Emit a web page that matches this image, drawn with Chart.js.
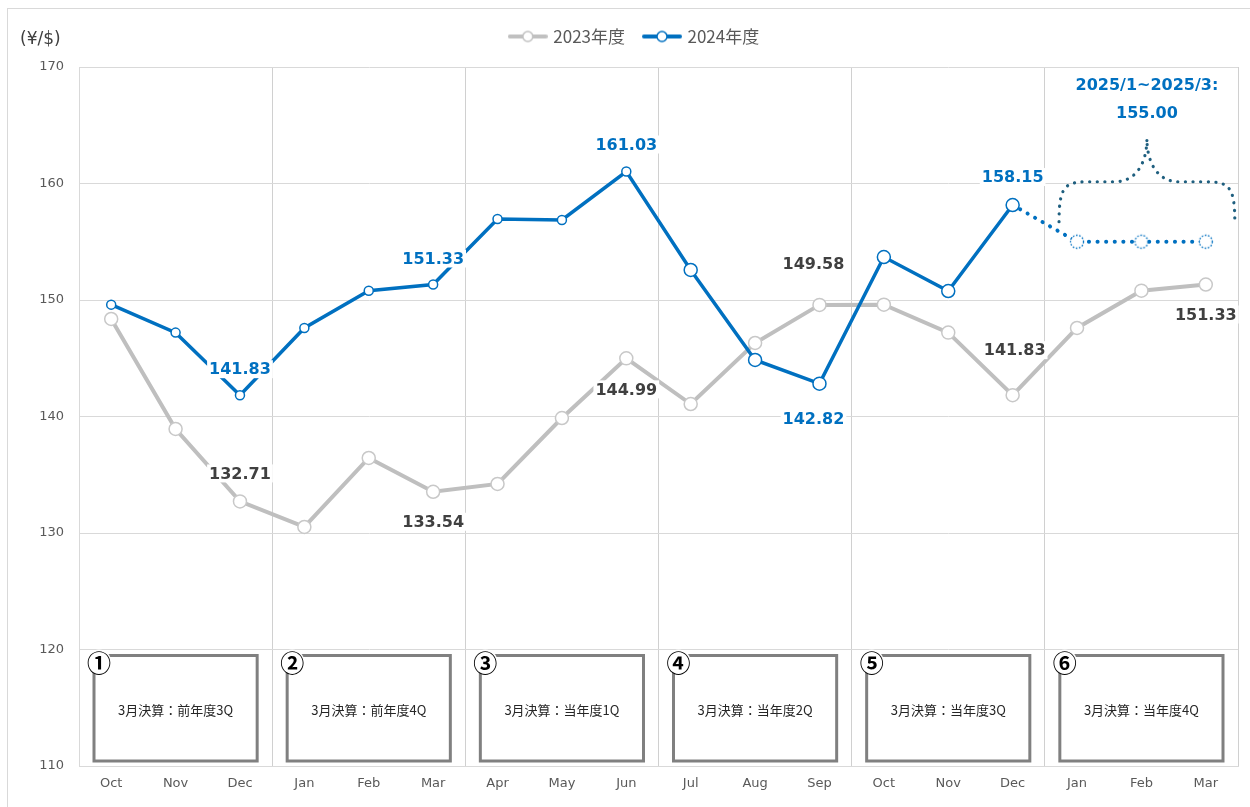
<!DOCTYPE html>
<html><head><meta charset="utf-8">
<script src="https://cdn.jsdelivr.net/npm/chart.js@4.4.1/dist/chart.umd.min.js"></script>
<style>
html,body{margin:0;padding:0;background:#fff;}
#wrap{position:relative;width:1250px;height:807px;overflow:hidden;}
#frame{position:absolute;left:7px;top:8px;width:1300px;height:900px;border-left:1px solid #d9d9d9;border-top:1px solid #d9d9d9;}
#c{position:absolute;left:0;top:0;}
#unit{position:absolute;left:20px;top:28px;font:17px "DejaVu Sans";color:#404040;}
</style></head><body>
<div id="wrap"><div id="frame"></div><canvas id="c" width="1250" height="807"></canvas><div id="unit">(¥/$)</div></div>
<script>
// ---- data ----
const months = ['Oct','Nov','Dec','Jan','Feb','Mar','Apr','May','Jun','Jul','Aug','Sep','Oct','Nov','Dec','Jan','Feb','Mar'];
const seriesNames = ['2023年度','2024年度'];
const fy2023 = [148.37,138.93,132.71,130.52,136.44,133.54,134.21,139.87,144.99,141.07,146.31,149.58,149.6,147.2,141.83,147.6,150.8,151.33];
const fy2024 = [149.6,147.2,141.83,147.6,150.8,151.33,156.95,156.87,161.03,152.58,144.85,142.82,153.69,150.77,158.15,null,null,null];
const outlook = [null,null,null,null,null,null,null,null,null,null,null,null,null,null,158.15,155.00,155.00,155.00];
const outlookTitle = '2025/1~2025/3:';
const outlookValue = '155.00';
const yMin = 110, yMax = 170, yStep = 10;
const quarterMarks = ['①','②','③','④','⑤','⑥'];
const quarterNotes = ['3月決算：前年度3Q','3月決算：前年度4Q','3月決算：当年度1Q','3月決算：当年度2Q','3月決算：当年度3Q','3月決算：当年度4Q'];
const labeled2023 = [2,5,8,11,14,17];
const labeled2024 = [2,5,8,11,14];

// ---- styles ----
const BLUE = '#0070c0', GRAY = '#bfbfbf';
const labelOffsets2023 = {2:-28, 5:30, 8:31, 11:-41, 14:-45, 17:30};
const labelDx2023 = {11:-6, 14:2};
const labelOffsets2024 = {2:-26, 5:-26, 8:-27, 11:35, 14:-28};
const labelDx2024 = {11:-6};

function legendMarker(color){
  const c=document.createElement('canvas'); c.width=40; c.height=14;
  const g=c.getContext('2d'); g.strokeStyle=color; g.lineCap='round'; g.lineWidth=4;
  g.beginPath(); g.moveTo(2,7); g.lineTo(38,7); g.stroke();
  g.beginPath(); g.arc(20,7,5,0,Math.PI*2); g.fillStyle='#fff'; g.fill(); g.lineWidth=1.5; g.stroke();
  return c;
}
function dottedCircle(){
  const c=document.createElement('canvas'); c.width=18; c.height=18;
  const g=c.getContext('2d'); g.beginPath(); g.arc(9,9,6.5,0,Math.PI*2); g.fillStyle='#fff'; g.fill();
  g.setLineDash([1.6,1.6]); g.strokeStyle=BLUE; g.lineWidth=1.3; g.stroke();
  return c;
}
const markers = [legendMarker('#c0c0c0'), legendMarker(BLUE)];
const dotCircle = dottedCircle();

const annotations = {
  id:'annot',
  afterLayout(chart){
    chart.legend.left += 16; chart.legend.right += 16;
    chart.legend.top = 8;
  },
  beforeDatasetsDraw(chart){
    const {ctx, chartArea, scales:{x, y}} = chart;
    const half = (x.getPixelForValue(1)-x.getPixelForValue(0))/2;
    ctx.save();
    for(let k=0;k<6;k++){
      const l = x.getPixelForValue(3*k)-half, r = x.getPixelForValue(3*k+2)+half;
      const x1=l+15, x2=r-15, y1=y.getPixelForValue(120)+6, y2=chartArea.bottom-5;
      ctx.fillStyle='#fff'; ctx.fillRect(x1,y1,x2-x1,y2-y1);
      ctx.strokeStyle='#808080'; ctx.lineWidth=3; ctx.strokeRect(x1,y1,x2-x1,y2-y1);
      ctx.beginPath(); ctx.arc(x1+5,y1+6,12,0,Math.PI*2); ctx.fillStyle='#fff'; ctx.fill();
      ctx.fillStyle='#000'; ctx.font='bold 24px "Noto Sans CJK JP"'; ctx.textAlign='center'; ctx.textBaseline='middle';
      ctx.fillText(quarterMarks[k], x1+5, y1+7);
      ctx.fillStyle='#262626'; ctx.font='13px "Noto Sans CJK JP"';
      ctx.fillText(quarterNotes[k], (x1+x2)/2, (y1+y2)/2+2);
    }
    ctx.restore();
  },
  afterDatasetsDraw(chart){
    const {ctx, chartArea, scales:{x, y}} = chart;
    ctx.save();
    const drawLbl = (meta, idxs, offs, dxs, vals, color) => {
      ctx.font='bold 16px "DejaVu Sans"'; ctx.textAlign='center'; ctx.textBaseline='middle';
      idxs.forEach(i=>{
        const p = meta.data[i]; const t = vals[i].toFixed(2);
        const cx = p.x + (dxs[i]||0), cy = p.y + offs[i];
        const w = ctx.measureText(t).width;
        ctx.fillStyle='#fff'; ctx.fillRect(cx-w/2-2, cy-9, w+4, 18);
        ctx.fillStyle=color; ctx.fillText(t, cx, cy+1);
      });
    };
    drawLbl(chart.getDatasetMeta(0), labeled2023, labelOffsets2023, labelDx2023, fy2023, '#404040');
    drawLbl(chart.getDatasetMeta(1), labeled2024, labelOffsets2024, labelDx2024, fy2024, BLUE);
    // brace
    const y155 = y.getPixelForValue(outlook[16]);
    const xL = x.getPixelForValue(15)-18, xR = x.getPixelForValue(17)+29, xC=(xL+xR)/2;
    const yB = y155-20, yM = y155-60, yP = y155-103;
    ctx.beginPath();
    ctx.moveTo(xL, yB);
    ctx.bezierCurveTo(xL, yM+4, xL+6, yM, xL+30, yM);
    ctx.lineTo(xC-32, yM);
    ctx.bezierCurveTo(xC-10, yM, xC, yM-20, xC, yP);
    ctx.bezierCurveTo(xC, yM-20, xC+10, yM, xC+32, yM);
    ctx.lineTo(xR-30, yM);
    ctx.bezierCurveTo(xR-6, yM, xR, yM+4, xR, yB);
    ctx.setLineDash([0.1,7.5]); ctx.lineCap='round'; ctx.lineWidth=3.2; ctx.strokeStyle='#1f5f7f'; ctx.stroke();
    ctx.setLineDash([]);
    ctx.fillStyle=BLUE; ctx.font='bold 16px "DejaVu Sans"'; ctx.textAlign='center'; ctx.textBaseline='middle';
    ctx.fillText(outlookTitle, xC, chartArea.top+19);
    ctx.fillText(outlookValue, xC, chartArea.top+47);
    ctx.restore();
  }
};

new Chart(document.getElementById('c'), {
  type:'line',
  data:{
    labels: months,
    datasets:[
      {label:seriesNames[0], data:fy2023, order:2, borderColor:GRAY, borderWidth:4, pointRadius:6.5, pointBorderWidth:1.5,
       pointBorderColor:'#c8c8c8', pointBackgroundColor:'#fff', tension:0},
      {label:seriesNames[1], data:fy2024, order:0, borderColor:BLUE, borderWidth:3.5,
       pointRadius:(c)=>c.dataIndex<9?4.5:6.5, pointBorderWidth:1.5, pointBorderColor:BLUE, pointBackgroundColor:'#fff', tension:0},
      {label:'outlook', data:outlook, order:1, borderColor:BLUE, borderWidth:4, borderDash:[0.1,8.5], borderCapStyle:'round',
       pointStyle:dotCircle, pointRadius:(c)=>c.dataIndex===14?0:7, spanGaps:false}
    ]
  },
  options:{
    responsive:false, animation:false, events:[],
    layout:{padding:{left:0,right:12,top:20,bottom:0}},
    plugins:{
      legend:{position:'top', labels:{font:{family:'"Noto Sans CJK JP"', size:17}, color:'#595959', padding:20,
        usePointStyle:true, pointStyleWidth:34,
        filter:(it)=>it.datasetIndex<2,
        sort:(a,b)=>a.datasetIndex-b.datasetIndex,
        generateLabels:(chart)=>Chart.defaults.plugins.legend.labels.generateLabels(chart).map((l)=>{ if(l.datasetIndex<2){l.pointStyle=markers[l.datasetIndex];} return l;})}},
      tooltip:{enabled:false}
    },
    scales:{
      x:{offset:true, grid:{offset:true, drawTicks:false, lineWidth:1,
          color:(c)=> (c.index===undefined || c.index%3===0) ? '#d0d0d0' : 'rgba(0,0,0,0)'},
         border:{color:'#d9d9d9'},
         ticks:{color:'#595959', font:{family:'"DejaVu Sans"', size:13}, padding:10, maxRotation:0, autoSkip:false},
         afterFit:(s)=>{s.height=41;}},
      y:{min:yMin, max:yMax, grid:{color:'#d9d9d9', drawTicks:false}, border:{color:'#d9d9d9'},
         ticks:{stepSize:yStep, color:'#595959', font:{family:'"DejaVu Sans"', size:13}, padding:15},
         afterFit:(s)=>{s.width=79;}}
    }
  },
  plugins:[annotations]
});
</script>
</body></html>
